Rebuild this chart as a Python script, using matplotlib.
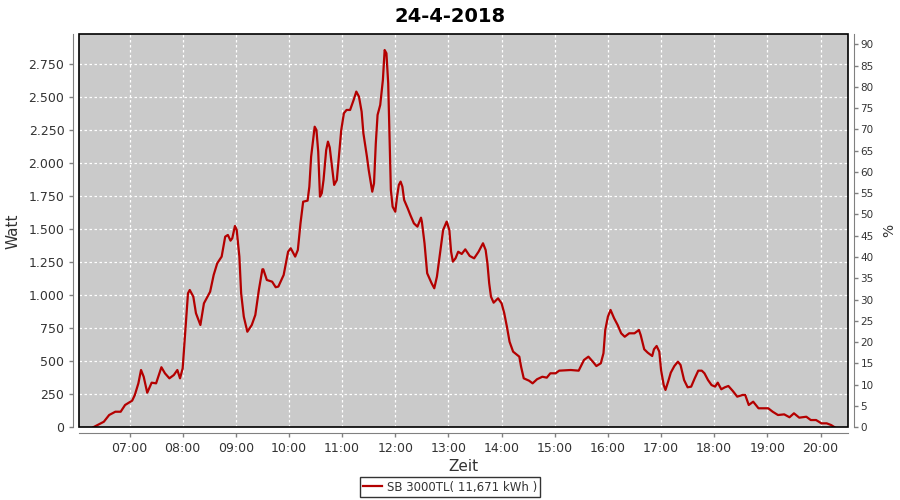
import matplotlib
matplotlib.use("Agg")
import matplotlib.pyplot as plt
from matplotlib.patches import Rectangle

# data: minutes since midnight, watt
minutes = [379, 391, 397, 404, 410, 415, 423, 426, 430, 433, 436, 440, 445, 450,
           456, 460, 465, 470, 474, 477, 480, 483, 486, 488, 492, 495, 500, 504,
           508, 511, 515, 519, 524, 528, 531, 534, 536, 539, 541, 544, 546, 549,
           553, 558, 562, 566, 570, 571, 575, 581, 585, 588, 594, 599, 602, 607,
           610, 613, 616, 621, 623, 625, 629, 631, 633, 635, 637, 639, 642, 644,
           646, 649, 651, 654, 656, 659, 662, 665, 669, 673, 676, 679, 682, 684,
           688, 690, 694, 696, 698, 700, 703, 706, 708, 710, 712, 714, 715, 717,
           720, 722, 724, 726, 728, 730, 734, 737, 741, 745, 749, 750, 753, 756,
           761, 764, 767, 771, 774, 778, 781, 783, 785, 788, 791, 795, 799, 804,
           809, 814, 819, 822, 824, 826, 828, 831, 836, 840, 843, 846, 849, 853,
           860, 862, 865, 871, 875, 880, 886, 891, 895, 901, 905, 918, 927, 933,
           938, 943, 947, 952, 955, 957, 960, 963, 967, 971, 975, 979, 984, 990,
           995, 997, 1001, 1005, 1010, 1012, 1015, 1018, 1020, 1023, 1025, 1028,
           1031, 1035, 1039, 1042, 1046, 1050, 1054, 1058, 1062, 1066, 1069, 1073,
           1077, 1081, 1084, 1088, 1092, 1096, 1101, 1106, 1112, 1115, 1119, 1124,
           1130, 1136, 1141, 1146, 1152, 1159, 1165, 1170, 1176, 1184, 1189, 1195,
           1201, 1207, 1212, 1216]
watt = [0, 42, 93, 118, 118, 169, 202, 245, 333, 434, 383, 262, 338, 333,
        455, 409, 371, 396, 434, 371, 447, 737, 1015, 1040, 990, 864, 775, 939,
        990, 1027, 1154, 1242, 1293, 1444, 1457, 1414, 1432, 1525, 1495, 1293, 1015, 838,
        724, 775, 851, 1040, 1197, 1197, 1116, 1103, 1061, 1066, 1154, 1330, 1356, 1293,
        1343, 1545, 1709, 1717, 1823, 2050, 2277, 2252, 2088, 1747, 1773, 1873, 2100, 2164,
        2120, 1949, 1836, 1873, 2025, 2252, 2379, 2404, 2404, 2480, 2543, 2505, 2391, 2227,
        2050, 1949, 1785, 1848, 2151, 2366, 2442, 2631, 2858, 2833, 2606, 2075, 1798, 1671,
        1633, 1747, 1836, 1861, 1823, 1722, 1659, 1608, 1545, 1520, 1588, 1558, 1394, 1167,
        1091, 1053, 1141, 1343, 1495, 1558, 1495, 1330, 1255, 1280, 1330, 1313, 1348, 1298,
        1280, 1330, 1394, 1343, 1242, 1091, 990, 944, 977, 939, 864, 762, 648, 573,
        535, 459, 371, 353, 333, 364, 383, 376, 409, 409, 429, 434, 429, 510,
        535, 497, 464, 485, 561, 737, 838, 889, 826, 775, 712, 686, 712, 712,
        737, 699, 591, 565, 540, 591, 616, 573, 434, 320, 283, 346,
        414, 464, 497, 472, 358, 303, 308, 371, 429, 429, 409, 358,
        320, 308, 338, 288, 303, 313, 275, 232, 245, 245, 169, 194,
        144, 144, 144, 118, 93, 98, 76, 106, 73, 80, 55, 55,
        30, 30, 17, 0]

hour_ticks = list(range(420, 1201, 60))
hour_labels = ["%02d:00" % (m // 60) for m in hour_ticks]
watt_ticks = list(range(0, 2751, 250))
watt_labels = ["{:,}".format(v).replace(",", ".") for v in watt_ticks]
pct_ticks = list(range(0, 91, 5))

plt.rcParams['font.family'] = ['DejaVu Sans']
fig = plt.figure(figsize=(9, 5), dpi=100)
ax = fig.add_axes([0.0878, 0.1454, 0.8544, 0.786])
ax.set_facecolor('#cacaca')

ax.plot(minutes, watt, color='#b40000', lw=1.6, label='SB 3000TL( 11,671 kWh )')

ax.set_xlim(363, 1231)
ax.set_ylim(0, 2977)
ax.set_xticks(hour_ticks)
ax.set_xticklabels(hour_labels)
ax.set_yticks(watt_ticks)
ax.set_yticklabels(watt_labels)
ax.grid(True, color='white', ls=(0, (2, 2)), lw=0.9)

ax2 = ax.twinx()
ax2.set_ylim(0, 2977 / 32.24)
ax2.set_yticks(pct_ticks)

for a in (ax, ax2):
    for s in a.spines.values():
        s.set_visible(False)
    a.tick_params(colors='#808080', labelcolor='#333333', labelsize=9, length=3, width=1)
ax2.tick_params(labelsize=7.5, pad=2)

ax.spines['left'].set_visible(True)
ax.spines['left'].set_position(('outward', 4))
ax.spines['left'].set_color('#808080')
ax.spines['bottom'].set_visible(True)
ax.spines['bottom'].set_position(('outward', 4))
ax.spines['bottom'].set_color('#808080')
ax2.spines['right'].set_visible(True)
ax2.spines['right'].set_position(('outward', 4))
ax2.spines['right'].set_color('#808080')

ax.add_patch(Rectangle((0, 0), 1, 1, transform=ax.transAxes, fill=False,
                       edgecolor='black', lw=1.2, zorder=5, clip_on=False))

ax.set_xlabel('Zeit', fontsize=11, color='#333333', labelpad=3)
ax.set_ylabel('Watt', fontsize=11, color='#333333', labelpad=6)
ax2.set_ylabel('%', fontsize=10, color='#333333', labelpad=6)
fig.suptitle('24-4-2018', fontsize=14, fontweight='bold', y=0.985)

leg = fig.legend(loc='center', bbox_to_anchor=(0.5, 0.026), fontsize=8.5,
                 frameon=True, fancybox=False, borderpad=0.3, handlelength=1.6,
                 handletextpad=0.4)
leg.get_frame().set_edgecolor('black')
leg.get_frame().set_linewidth(1)
for t in leg.get_texts():
    t.set_color('#333333')

fig.savefig('out.png', dpi=100)
